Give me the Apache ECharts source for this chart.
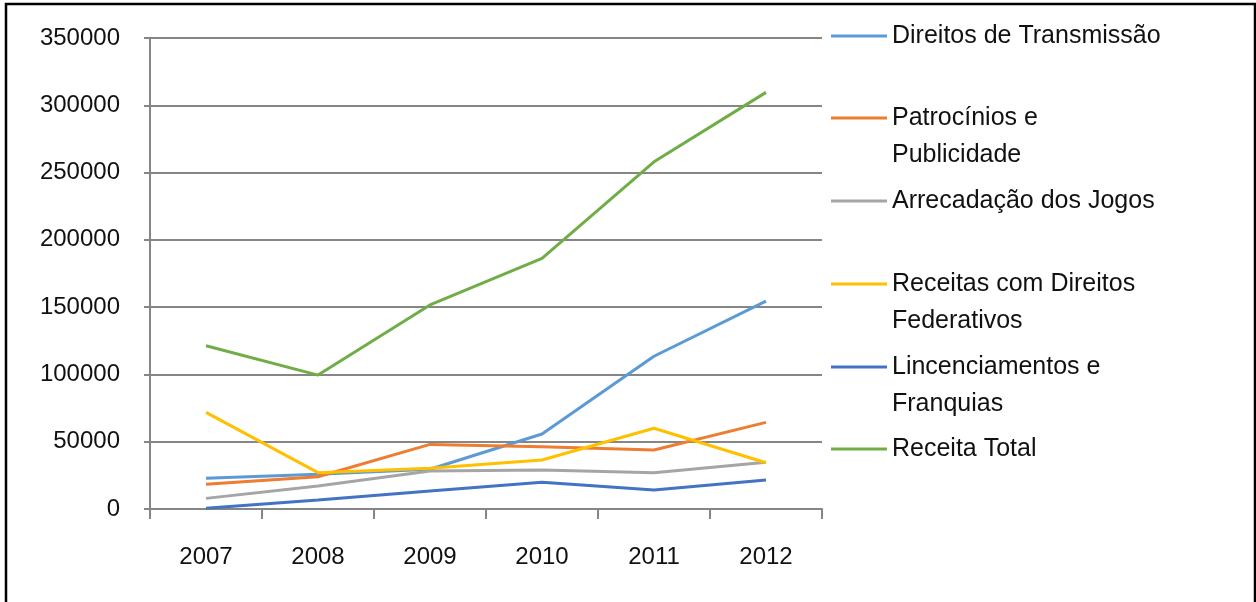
<!DOCTYPE html>
<html>
<head>
<meta charset="utf-8">
<script src="https://cdn.jsdelivr.net/npm/echarts@6/dist/echarts.min.js"></script>
<style>
html,body{margin:0;padding:0;background:#fff;}
#c{width:1256px;height:602px;}
</style>
</head>
<body>
<div id="c"></div>
<script>
var categories = ['2007','2008','2009','2010','2011','2012'];
var direitosTransmissao = [22800, 25800, 29500, 55700, 113500, 154500];
var patrocinios = [18400, 24000, 48000, 46300, 43800, 64400];
var arrecadacao = [7900, 17100, 28200, 29000, 27000, 34700];
var direitosFederativos = [71800, 27000, 30200, 36400, 60000, 34400];
var licenciamentos = [500, 6700, 13400, 19800, 14100, 21500];
var receitaTotal = [121300, 99500, 151600, 186300, 258000, 309600];
var yTicks = [0, 50000, 100000, 150000, 200000, 250000, 300000, 350000];

var names = ['Direitos de Transmissão', 'Patrocínios e\nPublicidade', 'Arrecadação dos Jogos',
  'Receitas com Direitos\nFederativos', 'Lincenciamentos e\nFranquias', 'Receita Total'];
var colors = ['#5B9BD5', '#ED7D31', '#A5A5A5', '#FFC000', '#4472C4', '#70AD47'];
var datas = [direitosTransmissao, patrocinios, arrecadacao, direitosFederativos, licenciamentos, receitaTotal];

var FONT = 'Liberation Sans';
var TXT = '#111';
var LH = 37;
var legendIconY = [36, 118, 201, 284, 367, 449];

var legends = names.map(function (n, i) {
  var multi = n.indexOf('\n') >= 0;
  return {
    data: [n],
    left: 831,
    top: multi ? legendIconY[i] - LH * 1.5 : legendIconY[i] - LH / 2,
    padding: 0,
    icon: 'rect',
    itemWidth: 56,
    itemHeight: 3,
    selectedMode: false,
    formatter: function (name) { return multi ? '\u00a0\n' + name : name; },
    textStyle: { fontFamily: FONT, fontSize: 25, color: TXT, lineHeight: LH }
  };
});

var series = names.map(function (n, i) {
  return {
    name: n, type: 'line', data: datas[i],
    symbol: 'none', color: colors[i],
    lineStyle: { width: 3, color: colors[i] },
    z: 3
  };
});

var chart = echarts.init(document.getElementById('c'));
chart.setOption({
  animation: false,
  backgroundColor: '#fff',
  graphic: [{
    type: 'rect', shape: { x: 6, y: 4, width: 1249, height: 620 },
    style: { fill: 'none', stroke: '#000', lineWidth: 2.5 }, silent: true, z: 0
  }],
  legend: legends,
  grid: { left: 150, right: 434, top: 38, bottom: 93, containLabel: false },
  xAxis: {
    type: 'category', data: categories, boundaryGap: true,
    axisLine: { lineStyle: { color: '#868686', width: 2 } },
    axisTick: { show: true, length: 10, lineStyle: { color: '#868686', width: 2 } },
    axisLabel: { fontFamily: FONT, fontSize: 24, color: TXT, margin: 36 }
  },
  yAxis: {
    type: 'value', min: yTicks[0], max: yTicks[yTicks.length - 1], interval: 50000,
    axisLine: { show: true, lineStyle: { color: '#868686', width: 2 } },
    axisTick: { show: true, length: 6, lineStyle: { color: '#868686', width: 2 } },
    splitLine: { lineStyle: { color: '#868686', width: 2 } },
    axisLabel: { fontFamily: FONT, fontSize: 24, color: TXT, margin: 30,
      formatter: function (v) { return String(v); } }
  },
  series: series
});
</script>
</body>
</html>
